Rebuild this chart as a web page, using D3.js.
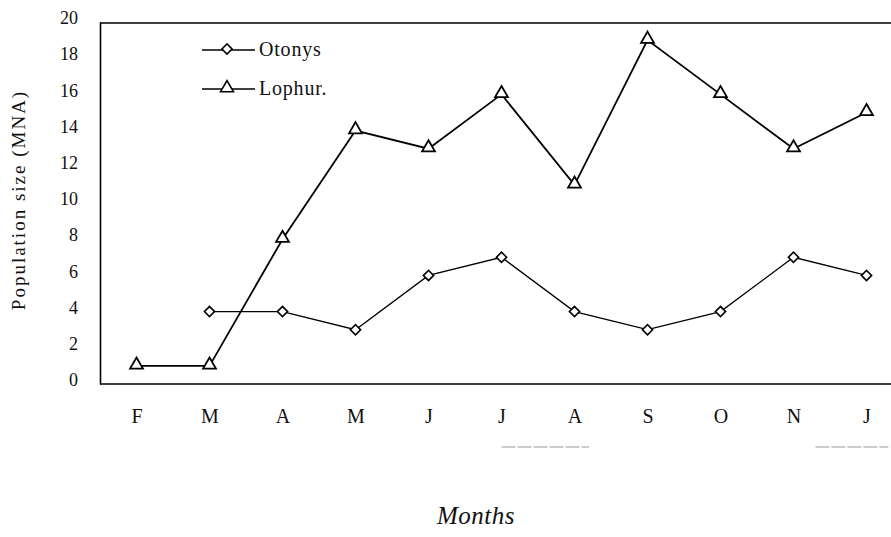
<!DOCTYPE html>
<html>
<head>
<meta charset="utf-8">
<script src="https://cdn.jsdelivr.net/npm/d3@7"></script>
<style>
  body { margin: 0; background: #fff; }
  svg { display: block; font-family: "Liberation Serif", "DejaVu Serif", serif; }
</style>
</head>
<body>
<div id="d3-container"></div>
<script>
const months = ["F", "M", "A", "M", "J", "J", "A", "S", "O", "N", "J"]
const otonys = [null, 4, 4, 3, 6, 7, 4, 3, 4, 7, 6]
const lophur = [1, 1, 8, 14, 13, 16, 11, 19, 16, 13, 15]
const yTicks = [0, 2, 4, 6, 8, 10, 12, 14, 16, 18, 20]

const w = 891
const h = 537
const plotLeft = 100
const plotTop = 22
const plotBottom = 384
const serif = '"Liberation Serif", "DejaVu Serif", serif'

const svg = d3.select('#d3-container')
    .append('svg')
    .attr('width', w)
    .attr('height', h)

// scales
const xScale = d3.scalePoint()
    .domain(d3.range(months.length))
    .range([plotLeft, 903])
    .padding(0.5)

const yScale = d3.scaleLinear()
    .domain([0, 20])
    .range([plotBottom, plotTop])

// axes
const yAxis = d3.axisLeft(yScale)
    .tickValues(yTicks)
    .tickSize(0)
    .tickPadding(22)

const gy = svg.append('g')
    .attr('transform', 'translate(' + plotLeft + ',0)')
    .call(yAxis)
gy.select('.domain').attr('stroke', '#000').attr('stroke-width', 1.6)
gy.selectAll('text')
    .attr('y', -4)
    .style('font-size', '18px')
    .style('font-family', serif)
    .attr('fill', '#111')

const xAxis = d3.axisBottom(xScale)
    .tickFormat(i => months[i])
    .tickSize(0)
    .tickPadding(25)

const gx = svg.append('g')
    .attr('transform', 'translate(0,' + plotBottom + ')')
    .call(xAxis)
gx.select('.domain').remove()
gx.selectAll('text')
    .style('font-size', '20px')
    .style('font-family', serif)
    .attr('fill', '#111')

// frame lines
svg.append('line')
    .attr('x1', plotLeft).attr('x2', w)
    .attr('y1', plotBottom).attr('y2', plotBottom)
    .attr('stroke', '#000').attr('stroke-width', 1.6)
svg.append('line')
    .attr('x1', plotLeft).attr('x2', w)
    .attr('y1', plotTop + 1).attr('y2', plotTop + 1)
    .attr('stroke', '#000').attr('stroke-width', 1.6)

// faint scan marks under the month labels
svg.selectAll('.scan')
    .data([[5, 6.2], [9.3, 10.3]])
    .enter()
    .append('line')
    .attr('x1', d => xScale(Math.floor(d[0])) + (d[0] % 1) * xScale.step())
    .attr('x2', d => xScale(Math.floor(d[1])) + (d[1] % 1) * xScale.step())
    .attr('y1', 447).attr('y2', 447)
    .attr('stroke', '#999').attr('stroke-width', 1)
    .attr('stroke-dasharray', '14,2')

// lines
const line = d3.line()
    .defined(d => d !== null)
    .x((d, i) => xScale(i))
    .y(d => yScale(d))

svg.append('path')
    .datum(otonys)
    .attr('d', line)
    .attr('fill', 'none')
    .attr('stroke', '#000')
    .attr('stroke-width', 1.3)

svg.append('path')
    .datum(lophur)
    .attr('d', line)
    .attr('fill', 'none')
    .attr('stroke', '#000')
    .attr('stroke-width', 1.8)

const diamond = d3.symbol().type(d3.symbolSquare).size(52)
const triangle = d3.symbol().type(d3.symbolTriangle).size(72)

svg.selectAll('.otonys')
    .data(otonys.map((v, i) => [i, v]).filter(d => d[1] !== null))
    .enter()
    .append('path')
    .attr('d', diamond)
    .attr('transform', d => 'translate(' + xScale(d[0]) + ',' + yScale(d[1]) + ') rotate(45)')
    .attr('fill', '#fff')
    .attr('stroke', '#000')
    .attr('stroke-width', 1.6)

svg.selectAll('.lophur')
    .data(lophur.map((v, i) => [i, v]))
    .enter()
    .append('path')
    .attr('d', triangle)
    .attr('transform', d => 'translate(' + xScale(d[0]) + ',' + (yScale(d[1]) - 1) + ')')
    .attr('fill', '#fff')
    .attr('stroke', '#000')
    .attr('stroke-width', 1.8)

// legend
const legend = svg.append('g')
const items = [
    { name: "Otonys", sym: diamond, rot: 45, y: 50 },
    { name: "Lophur.", sym: triangle, rot: 0, y: 89 }
]
legend.selectAll('line')
    .data(items)
    .enter()
    .append('line')
    .attr('x1', 202).attr('x2', 255)
    .attr('y1', d => d.y).attr('y2', d => d.y)
    .attr('stroke', '#000').attr('stroke-width', 1.3)
legend.selectAll('path')
    .data(items)
    .enter()
    .append('path')
    .attr('d', d => d.sym())
    .attr('transform', d => 'translate(227,' + (d.y - 1) + ') rotate(' + d.rot + ')')
    .attr('fill', '#fff')
    .attr('stroke', '#000')
    .attr('stroke-width', 1.6)
legend.selectAll('text')
    .data(items)
    .enter()
    .append('text')
    .attr('x', 259)
    .attr('y', d => d.y + 6)
    .style('font-size', '20px')
    .style('letter-spacing', '0.8px')
    .attr('fill', '#111')
    .text(d => d.name)

// axis titles
svg.append('text')
    .attr('transform', 'translate(25,200) rotate(-90)')
    .attr('text-anchor', 'middle')
    .style('font-size', '19px')
    .style('letter-spacing', '2px')
    .attr('fill', '#111')
    .text('Population size (MNA)')

svg.append('text')
    .attr('x', 476)
    .attr('y', 524)
    .attr('text-anchor', 'middle')
    .style('font-size', '25px')
    .style('font-style', 'italic')
    .style('letter-spacing', '0.5px')
    .attr('fill', '#111')
    .text('Months')
</script>
</body>
</html>
